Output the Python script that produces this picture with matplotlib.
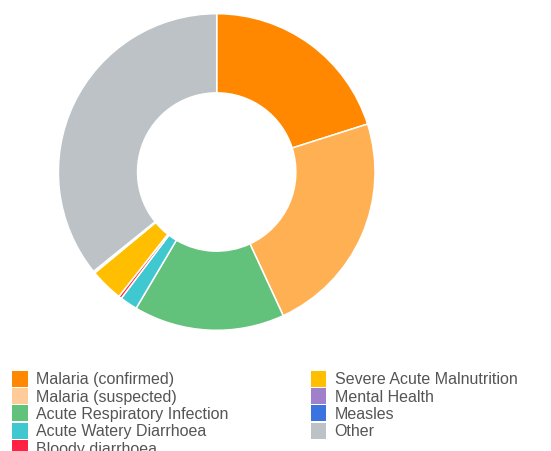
import matplotlib
matplotlib.use('Agg')
import matplotlib.pyplot as plt
from matplotlib.patches import Rectangle

# Share of consultations by disease (percent)
categories = ['Malaria (confirmed)', 'Malaria (suspected)', 'Acute Respiratory Infection',
              'Acute Watery Diarrhoea', 'Bloody diarrhoea', 'Severe Acute Malnutrition',
              'Mental Health', 'Measles', 'Other']
values = [20.1, 23.0, 15.4, 1.8, 0.3, 3.4, 0.1, 0.1, 35.8]

slice_colors = ['#FF8800', '#FFB052', '#62C27B', '#40C8D0', '#FF2244',
                '#FFBF00', '#A07FCC', '#3B73E0', '#BCC2C5']
legend_colors = ['#FF8800', '#FFCC99', '#62C27B', '#40C8D0', '#FF2244',
                 '#FFBF00', '#A07FCC', '#3B73E0', '#BCC2C5']

plt.rcParams['font.family'] = ['Liberation Sans', 'DejaVu Sans']

W, H = 551, 452
fig = plt.figure(figsize=(W / 100, H / 100), dpi=100)

# donut: centre (216.7, 173) px, outer radius 158.3 px
cx, cy, R = 216.7, 173.0, 158.3
ax = fig.add_axes([(cx - R) / W, (H - cy - R) / H, 2 * R / W, 2 * R / H])
ax.pie(values, colors=slice_colors, startangle=90, counterclock=False,
       radius=1.0, wedgeprops=dict(width=0.5, edgecolor='white', linewidth=1.1))
ax.set_xlim(-1, 1)
ax.set_ylim(-1, 1)
ax.set_aspect('equal')
ax.axis('off')

# legend, two columns, filled column by column (last row is cut by the edge, as in the source)
col_x = [12.3, 311.0]
row_top = 371.7
row_step = 17.3
sw = 15.3
for i, (label, col) in enumerate(zip(categories, legend_colors)):
    c = 0 if i < 5 else 1
    r = i if i < 5 else i - 5
    top = row_top + r * row_step
    fig.patches.append(Rectangle((col_x[c] / W, (H - top - 16) / H), sw / W, 16 / H,
                                 transform=fig.transFigure, facecolor=col,
                                 edgecolor='none'))
    fig.text((col_x[c] + 23.7) / W, (H - top - 8.3) / H, label, fontsize=11.5,
             color='#555555', va='center', ha='left')

fig.savefig('out.png', dpi=100)
